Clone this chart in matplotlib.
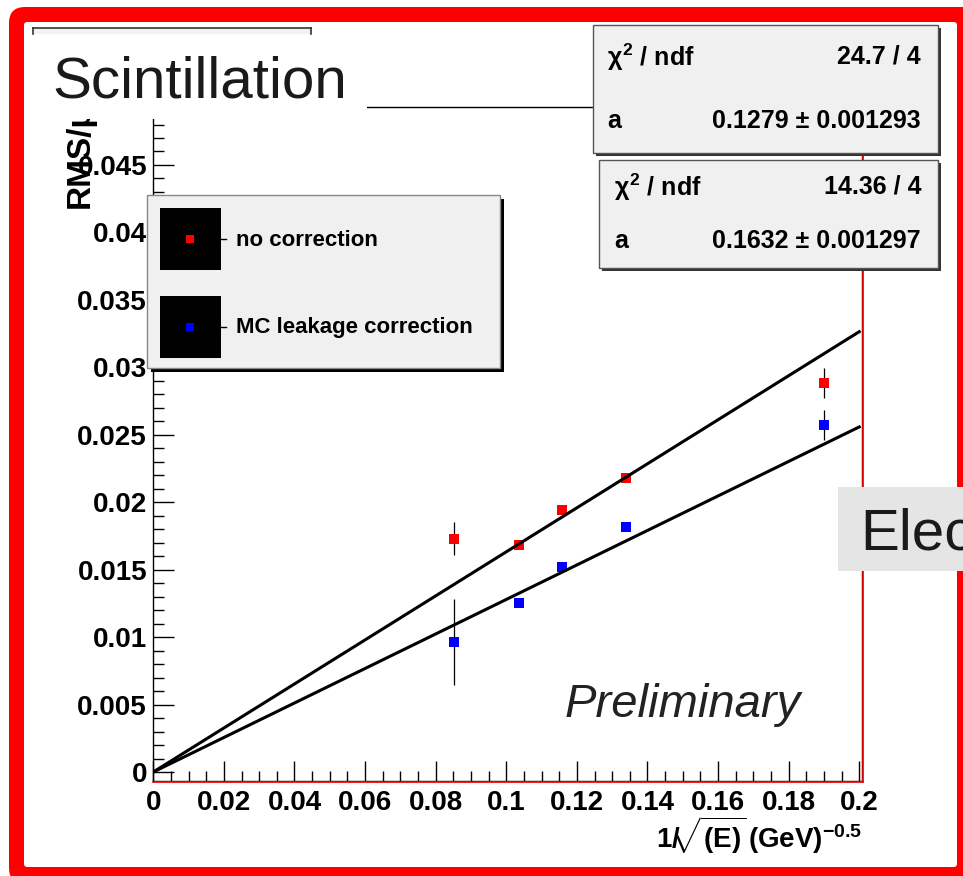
import matplotlib
matplotlib.use("Agg")
import matplotlib.pyplot as plt
import numpy as np
from matplotlib.patches import Rectangle, FancyBboxPatch
from matplotlib.ticker import MultipleLocator, FuncFormatter
from matplotlib.transforms import IdentityTransform

plt.rcParams["font.family"] = ["Liberation Sans", "DejaVu Sans"]
plt.rcParams["font.weight"] = "bold"
plt.rcParams["mathtext.fontset"] = "custom"
plt.rcParams["mathtext.rm"] = "Liberation Sans:bold"
plt.rcParams["mathtext.it"] = "Liberation Sans:bold"
plt.rcParams["mathtext.bf"] = "Liberation Sans:bold"

# energy points, x = 1/sqrt(E)
inv_sqrt_e = [0.0852, 0.1037, 0.1158, 0.1340, 0.1899]

# RMS/mu without correction
rms_raw = [0.01730, 0.01683, 0.01942, 0.02182, 0.02884]
rms_raw_err = [0.0012, 0.0003, 0.0003, 0.0003, 0.0011]

# RMS/mu with MC leakage correction
rms_corr = [0.00966, 0.01255, 0.01522, 0.01819, 0.02570]
rms_corr_err = [0.0032, 0.0003, 0.0003, 0.0003, 0.0011]

# fit results y = a * x
slope_raw, slope_raw_err, chi2_raw = 0.1632, 0.001297, "14.36 / 4"
slope_corr, slope_corr_err, chi2_corr = 0.1279, 0.001293, "24.7 / 4"
fit_range = [0.0, 0.2]

W, H = 963, 876
fig = plt.figure(figsize=(W / 100, H / 100), dpi=100)
fig.patch.set_facecolor("white")


def px_rect(x0, y0, x1, y1):
    return [x0 / W, 1 - y1 / H, (x1 - x0) / W, (y1 - y0) / H]


# slide background with the red rounded border (display pixels, y up)
bg = fig.add_axes([0, 0, 1, 1], zorder=-1)
bg.axis("off")
bg.add_patch(FancyBboxPatch((9, H - 884), 970, 877,
                            boxstyle="round,pad=0,rounding_size=16",
                            transform=IdentityTransform(), fc="#ff0000",
                            ec="none", clip_on=False))
bg.add_patch(FancyBboxPatch((24, H - 867), 933, 845,
                            boxstyle="round,pad=0,rounding_size=3",
                            transform=IdentityTransform(), fc="white",
                            ec="none", clip_on=False))

ax = fig.add_axes(px_rect(153.3, 106.7, 861.7, 780.7))
ax.set_xlim(0, 0.2007)
ax.set_ylim(-0.000645, 0.04932)

for y, err, c in [(rms_raw, rms_raw_err, "#ff0000"), (rms_corr, rms_corr_err, "#0000ff")]:
    ax.errorbar(inv_sqrt_e, y, yerr=err, fmt="s", color=c, ms=6.5, mew=0,
                ecolor="black", elinewidth=0.9, capsize=3.5, capthick=0.9, zorder=3)

xs = np.array(fit_range)
ax.plot(xs, slope_raw * xs, color="black", lw=2.2, zorder=4)
ax.plot(xs, slope_corr * xs, color="black", lw=2.2, zorder=4)

for s in ax.spines.values():
    s.set_color("black")
    s.set_linewidth(1.0)

fmt = FuncFormatter(lambda v, _: "%g" % round(v, 4))
ax.xaxis.set_major_locator(MultipleLocator(0.02))
ax.xaxis.set_minor_locator(MultipleLocator(0.005))
ax.yaxis.set_major_locator(MultipleLocator(0.005))
ax.yaxis.set_minor_locator(MultipleLocator(0.001))
ax.xaxis.set_major_formatter(fmt)
ax.yaxis.set_major_formatter(fmt)
ax.tick_params(which="both", direction="in", top=False, right=False, width=1.0,
               labelsize=20)
ax.tick_params(axis="y", which="major", length=15, pad=4.5)
ax.tick_params(axis="y", which="minor", length=8)
ax.tick_params(axis="x", which="major", length=14.4, pad=6.5)
ax.tick_params(axis="x", which="minor", length=7.2)

# overlay in pixel coordinates for the pad decorations
ov = fig.add_axes([0, 0, 1, 1], zorder=5)
ov.set_xlim(0, W)
ov.set_ylim(H, 0)
ov.axis("off")
ov.patch.set_visible(False)

# red frame edge on the right and bottom
ov.plot([153.3, 863.3], [782, 782], color="red", lw=1.2, zorder=1)
ov.plot([863.3, 863.3], [106.7, 782], color="red", lw=1.2, zorder=1)

ov.text(89, 208, "RMS/μ", rotation=90, rotation_mode="anchor", ha="left",
        va="baseline", fontsize=24, zorder=1)
ov.text(862, 848, r"$1/\!\!\sqrt{(E)}\,(GeV)^{-0.5}$", ha="right",
        va="baseline", fontsize=20, zorder=1)

# title box
ov.add_patch(Rectangle((33, 27), 334, 92, fc="white", ec="none", zorder=2))
ov.add_patch(Rectangle((34, 29), 277, 5, fc="#f2f2f2", ec="none", zorder=2))
ov.plot([33, 311], [28, 28], color="#333333", lw=1.2, zorder=3)
ov.plot([33, 33], [28, 34], color="#333333", lw=1.2, zorder=3)
ov.plot([311, 311], [28, 34], color="#333333", lw=1.2, zorder=3)
ov.text(52, 97, "Scintillation", fontsize=42, fontweight="normal",
        color="#1a1a1a", va="baseline", zorder=3)

# fit statistics boxes
stat_boxes = [
    ((592.7, 25, 938, 153), 607, chi2_corr, slope_corr, slope_corr_err),
    ((599, 160, 938, 268), 614, chi2_raw, slope_raw, slope_raw_err),
]
for (x0, y0, x1, y1), tx, chi2, a, a_err in stat_boxes:
    ov.add_patch(Rectangle((x0 + 3, y0 + 3), x1 - x0, y1 - y0, fc="#333333",
                           ec="none", zorder=4))
    ov.add_patch(Rectangle((x0, y0), x1 - x0, y1 - y0, fc="#f0f0f0",
                           ec="#555555", lw=1.0, zorder=5))
    r1 = y0 + (y1 - y0) * 0.25
    r2 = y0 + (y1 - y0) * 0.75
    ov.text(tx, r1, r"$\chi^{2}$ / ndf", fontsize=18, va="center", zorder=6)
    ov.text(921, r1, chi2, fontsize=18, va="center", ha="right", zorder=6)
    ov.text(tx, r2, "a", fontsize=18, va="center", zorder=6)
    ov.text(921, r2, f"{a} ± {a_err}", fontsize=18, va="center", ha="right",
            zorder=6)

# legend
ov.add_patch(Rectangle((151, 199), 353, 173, fc="black", ec="none", zorder=4))
ov.add_patch(Rectangle((147, 195), 353, 173, fc="#f0f0f0", ec="#888888",
                       lw=1.0, zorder=5))
legend_rows = [(239, "#ff0000", "no correction"),
               (327, "#0000ff", "MC leakage correction")]
for ly, c, label in legend_rows:
    ov.add_patch(Rectangle((160, ly - 31), 61, 62, fc="black", ec="none",
                           zorder=6))
    ov.plot([221, 226], [ly, ly], color="black", lw=1.0, zorder=6)
    ov.plot(190, ly, "s", color=c, ms=6, mew=0, zorder=7)
    ov.text(236, ly + 1, label, fontsize=16, va="center", zorder=7)

ov.text(565, 717, "Preliminary", fontsize=34, fontweight="normal",
        fontstyle="italic", color="#222222", va="baseline", zorder=3)

ov.add_patch(Rectangle((838, 487), 140, 84, fc="#e5e5e5", ec="none", zorder=9))
ov.text(860, 550, "Elec", fontsize=42, fontweight="normal", color="#1a1a1a",
        va="baseline", zorder=10)

fig.savefig("out.png", dpi=100)
